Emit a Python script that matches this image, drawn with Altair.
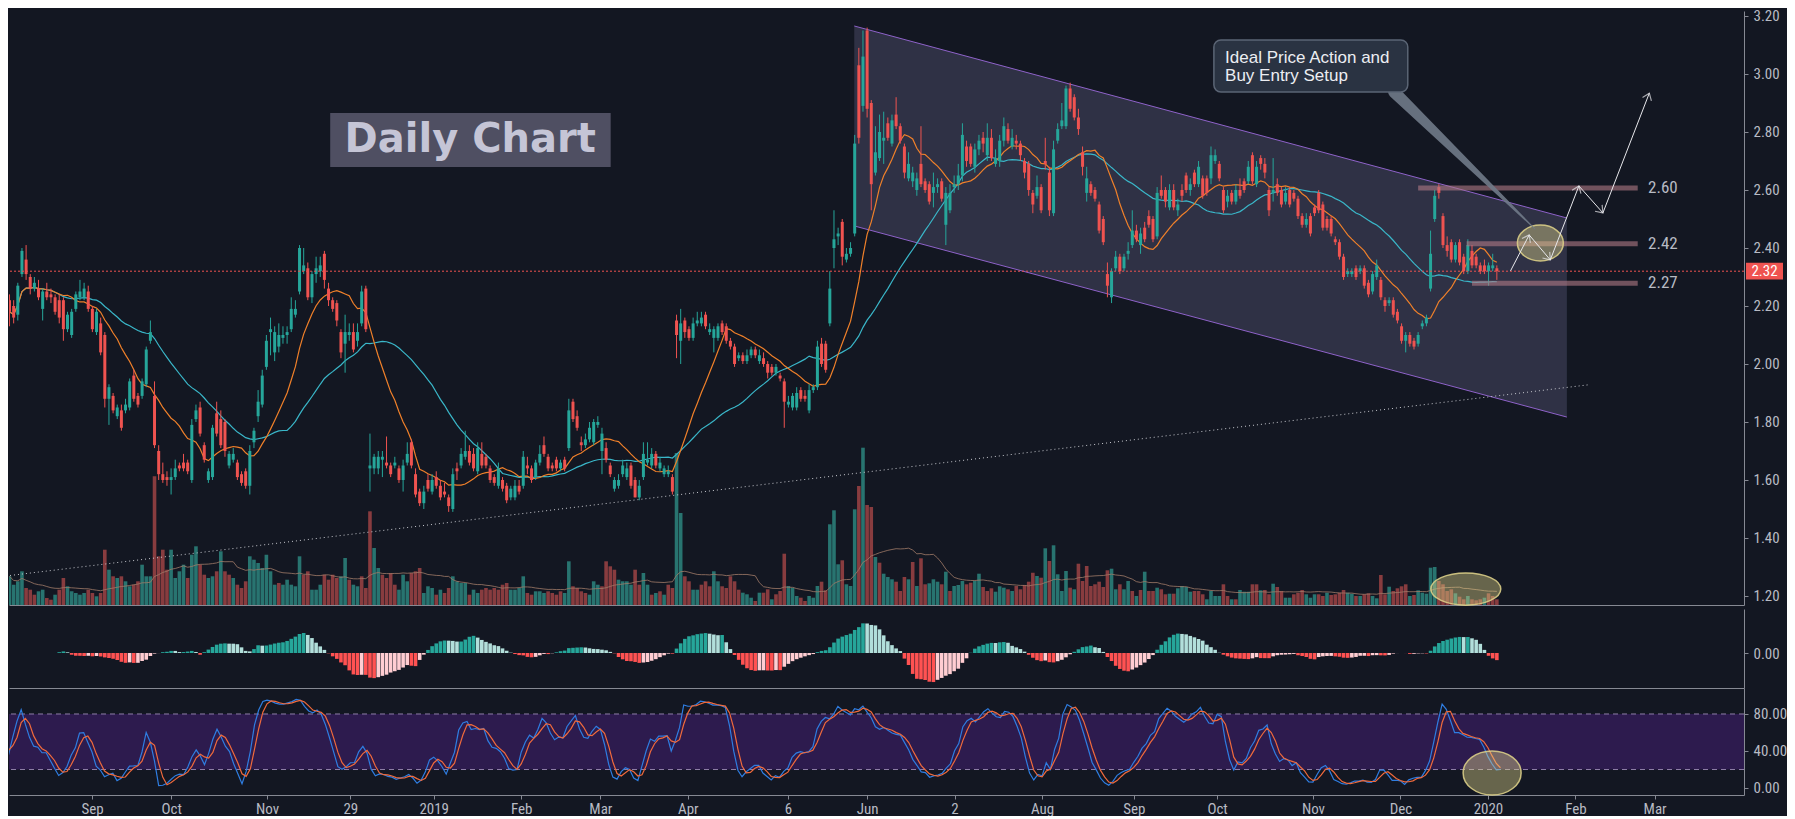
import math
import altair as alt
import pandas as pd

# ---------------- data (prices in cents) ----------------
# (open, close, high, low) per daily bar, first bar = index -21 (Sep 4 2018 = index 0)
seg1_ohlc = [(222,218,224,213),(220,216,222,214),(217,227,228,215),(231,239,240,230),(236,231,241,229),(230,226,231,224),(226,228,230,225),(226,223,229,222),(219,225,226,215),(225,223,228,222),
(224,223,226,221),(223,218,224,217),(222,216,224,214),(222,212,223,208),(212,217,218,211),(210,218,219,209),(219,224,225,218),(223,225,229,222),(223,226,228,222),(225,219,227,218),
(219,212,220,211),(211,218,219,210),(214,204,216,203),(210,188,211,185),(188,192,193,179),(189,184,190,183),(182,185,186,181),(184,178,186,177),(184,186,188,183),(185,194,195,184),
(196,188,198,187),(189,186,190,185),(189,194,195,188),(193,205,206,192),(208,211,215,207),(189,172,194,171),(170,162,172,160),(162,160,166,159),(161,160,163,158),(160,161,164,155),
(161,164,167,160),(165,164,166,163),(166,164,169,163),(166,163,167,162),(160,179,181,159),(181,184,186,180),(185,176,187,175),(172,167,173,166),(160,163,164,159),(161,178,179,160),
(183,176,187,175),(181,172,184,171),(180,170,181,168),(165,169,170,164),(167,169,171,166),(166,161,167,160),(162,159,163,158),(163,158,164,157),(158,170,172,155),(173,177,178,171),
(182,187,191,180),(186,196,198,185),(199,208,210,198),(211,212,216,203),(204,211,213,201),(206,210,214,204),(209,210,213,207),(210,211,213,207),(212,219,223,211),(217,219,222,216),
(225,240,241,224),(232,234,240,231),(233,223,235,222),(223,231,232,221),(231,233,237,228),(232,234,237,230),(238,229,239,226),(226,222,228,220),(222,219,223,218),(221,215,222,213),
(211,204,212,202),(207,211,217,197),(210,211,214,208),(211,205,214,204),(208,211,214,206),(214,225,227,213),(226,212,227,211),(164,165,176,156),(164,168,169,162)]
seg2_ohlc = [(164,168,170,162),(167,168,170,161),(166,165,175,164),(165,162,166,161),(165,166,168,164),(164,160,165,159),(160,165,167,156),(166,169,173,165),(173,165,174,164),(162,155,164,154),
(156,152,157,151),(152,156,158,150),(160,157,162,156),(156,160,162,155),(161,158,163,157),(158,154,160,153),(156,155,159,154),(154,151,155,149),(150,162,164,149),(164,163,166,160),
(165,169,171,164),(168,170,177,167),(170,166,172,165),(169,164,171,163),(163,171,173,162),(169,165,173,164),(168,165,169,164),(164,160,165,159),(161,159,162,158),(158,164,166,157),
(160,157,161,156),(158,153,159,152),(154,157,158,153),(154,158,160,153),(158,156,160,155),(158,168,170,157),(165,164,168,162),(164,160,165,159),(161,166,167,160),(166,169,172,165),
(172,169,175,168),(168,164,169,163),(165,164,166,163),(167,164,168,163),(164,166,167,163),(167,164,168,163),(171,184,188,170),(187,181,188,180),(182,178,184,177),(173,172,175,170),
(172,174,176,171),(174,178,180,173),(173,180,181,172),(179,180,182,178),(170,176,178,162),(171,167,173,166),(165,162,166,161),(157,160,161,156),(158,160,162,157),(162,165,167,161),
(161,164,166,160),(165,158,166,157),(160,154,161,154),(154,158,160,153),(161,169,173,160),(166,167,173,165),(165,169,171,164),(169,165,170,164),(164,166,168,163),(162,164,165,161),
(162,163,165,161),(161,156,162,155),(215,210,217,202),(208,214,219,200),(215,211,216,209),(212,209,213,208),(209,214,216,208),(214,215,218,213),(214,216,218,213),(217,213,218,212),
(211,212,214,210),(209,212,213,204),(209,213,214,208),(214,211,215,210),(213,208,214,207),(208,206,209,205),(206,200,207,199),(202,203,204,201)]
seg3_ohlc = [(203,201,204,200),(201,203,205,200),(203,205,206,202),(205,203,206,202),(201,203,205,200),(202,200,204,199),(200,197,201,195),(199,197,200,196),(197,199,200,196),(196,195,197,194),
(194,187,195,178),(186,187,189,185),(185,189,190,184),(185,190,192,184),(191,188,192,187),(189,188,191,187),(184,191,193,183),(191,192,193,190),(192,206,208,191),(207,200,209,199),
(207,198,208,197),(214,226,232,213),(240,243,253,233),(244,245,247,241),(249,237,250,234),(236,238,240,235),(238,240,242,237),(245,276,279,244),(303,278,309,276),(289,306,315,287),
(315,288,316,285),(290,262,291,253),(266,273,282,265),(271,280,286,270),(277,278,287,269),(283,278,285,277),(276,284,286,275),(286,282,292,281),(282,277,283,276),(275,266,276,264),
(264,269,273,263),(263,266,268,261),(260,264,266,258),(269,262,282,261),(263,260,264,259),(262,256,263,255),(259,261,266,254),(261,262,264,259),(263,257,264,256),(248,259,261,241),
(253,259,262,252),(261,262,265,259),(262,265,269,260),(265,279,283,263),(275,270,277,268),(275,269,276,268),(268,274,276,266),(274,277,279,272),(278,276,280,273),(272,278,283,270),
(278,271,281,270),(269,271,274,268),(270,277,279,268),(277,282,285,275),(281,277,283,276),(275,278,281,274),(277,276,279,274),(276,272,277,270),(270,266,271,264),(269,260,270,258),
(259,255,260,252),(258,261,265,257),(261,253,262,252),(270,269,278,267),(266,253,268,251),(252,274,277,251),(277,281,283,276),(282,284,290,281),(282,295,296,281),(295,288,297,287),
(292,285,293,284),(285,281,288,279),(273,268,275,265),(259,264,268,256),(262,259,263,258),(260,257,261,256),(255,246,256,245),(250,242,251,241),(231,227,235,223),(223,232,233,221),
(233,237,239,232),(237,232,238,231)]
seg4_ohlc = [(233,237,238,232),(238,239,242,236),(241,246,253,240),(246,243,248,242),(241,245,247,238),(247,243,249,242),(251,248,253,247),(250,243,251,242),(244,259,261,243),(260,258,265,257),
(260,256,261,254),(254,260,262,253),(260,254,262,253),(253,255,257,251),(260,258,262,256),(265,260,266,259),(260,262,264,258),(266,262,267,261),(262,268,270,261),(264,258,265,257),
(264,259,265,258),(264,272,275,262),(270,272,274,269),(269,264,270,263),(260,253,261,252),(256,258,260,254),(259,256,260,255),(256,260,262,255),(260,258,264,257),(263,260,264,259),
(263,268,270,262),(272,263,273,262),(262,268,270,261),(271,269,272,267),(269,266,271,264),(260,253,261,251),(259,260,271,256),(262,259,264,258),(260,255,261,254),(256,259,261,255),
(260,255,261,254),(259,257,260,256),(257,251,258,250),(251,248,252,247),(248,250,252,247),(251,245,252,244),(254,252,255,251),(259,253,260,252),(255,247,256,246),(250,247,251,246),
(250,245,251,244),(243,242,244,241),(242,237,243,236),(237,230,238,229),(231,232,233,230),(231,232,233,230),(233,230,234,229),(232,233,234,231),(233,227,234,226),(228,224,229,223),
(225,231,232,224),(230,234,236,229),(229,223,230,222),(222,220,223,218),(221,222,223,220),(222,217,223,216),(218,215,219,214),(213,208,214,207),(208,210,211,204),(210,207,211,206),
(208,206,209,205),(207,210,211,206),(213,214,215,212),(214,216,217,213),(226,238,246,225),(250,258,260,249),(261,259,262,257),(251,241,252,240),(241,239,244,237),(242,236,243,235),
(236,241,242,235),(242,235,243,234),(237,232,238,231),(232,241,243,231),(239,234,241,233),(237,234,238,233),(234,232,235,231),(234,232,236,231),(232,234,235,227),(233,234,238,232),
(233,232,234,229)]

# volume per bar (relative units) and its colour as seen (t = teal/up, r = red/down)
seg1_vol = [287,203,237,337,170,153,103,137,153,70,53,103,153,270,187,137,120,103,120,153,
120,87,120,553,353,287,270,287,237,187,203,237,403,287,287,1287,487,553,353,553,
270,337,403,270,503,587,403,303,270,287,337,537,337,303,270,203,170,237,487,453,
420,370,503,337,203,220,203,253,203,187,487,303,337,153,153,203,303,253,303,270,
287,470,253,203,187,287,170,937,570]
seg2_vol = [370,303,270,320,203,153,303,237,320,337,370,120,187,170,103,153,120,170,287,237,
220,220,103,153,120,153,170,153,170,153,203,220,153,153,170,287,120,103,137,137,
120,137,120,103,137,120,437,187,170,137,120,103,237,203,187,437,387,353,253,237,
237,203,353,203,320,203,103,120,137,103,203,170,1520,920,287,237,153,153,203,237,
187,337,237,187,170,287,237,153]
seg3_vol = [123,107,73,40,123,123,157,57,107,140,513,190,173,90,73,40,90,73,190,233,
147,807,947,407,447,207,190,957,1190,1573,1000,980,480,423,313,280,257,233,140,280,
257,430,190,467,207,217,257,233,207,333,140,190,200,240,207,223,240,313,180,140,
167,133,187,173,157,140,190,157,200,233,323,290,273,567,440,597,307,140,340,173,
157,413,240,390,190,207,233,180,347,363,157,207,157]
seg4_vol = [240,140,90,150,333,140,140,173,157,107,113,113,167,190,180,133,140,140,107,57,
140,90,90,207,90,57,57,150,133,133,207,207,147,150,107,213,180,140,73,73,
107,123,150,107,73,107,107,90,123,100,107,123,150,123,113,90,90,107,117,90,
67,300,107,183,140,167,187,207,90,100,147,123,113,373,380,240,207,140,157,117,
83,57,90,57,47,57,73,117,90,57]
seg1_vdir = "ttttrrrttr" "rtrrtttttr" "rtrrtrtrtt" "rrtttrrrrt" "tttrttrrtt" "rtrrtrrrtt" "tttttrtttt" "trrtttrrrr" "ttrttrrrt"
seg2_vdir = "trrrrtttrr" "rtttrtrrtt" "ttrttrrrrr" "rrttttrrtt" "trrrrttrrr" "rtttrrrrtt" "ttrrttrtrt" "rrttrrttrr" "rttrrrrr"
seg3_vdir = "tttrtrrtrr" "rtttrrtttr" "rtttrtttrt" "rrtrtttrrr" "trtrrtttrt" "rtttrrttrr" "rtttrtrrrr" "rtrtrttttr" "trrrrrrrrt" "trt"
seg4_vdir = "trtrtrrtrr" "trttttrrrt" "tttrrtrttt" "rrtrrtrrtt" "rrrtttrrtr" "rrrttrtrrt" "trrtrrrrtr" "tttttrrrrt" "rrtrrrtrrr"

FIRST_INDEX = -21

# x-axis ticks (bar index) and their labels
tick_index = [0, 19, 42, 62, 82, 103, 122, 143, 167, 186, 207, 228, 250, 270, 293, 314, 335, 356, 375]
tick_labels = ["Sep", "Oct", "Nov", "29", "2019", "Feb", "Mar", "Apr", "6", "Jun", "2", "Aug",
               "Sep", "Oct", "Nov", "Dec", "2020", "Feb", "Mar"]
price_ticks = [1.2, 1.4, 1.6, 1.8, 2.0, 2.2, 2.4, 2.6, 2.8, 3.0, 3.2]
macd_ticks = [0]
stoch_ticks = [0, 40, 80]

# drawings (bar index, price)
channel_x = [182.9, 354.9]
channel_top = [3.1655, 2.5034]
channel_bottom = [2.476, 1.817]
trend_x = [-21.84, 360.0]
trend_p = [1.269, 1.928]
zone_price = [2.607, 2.415, 2.278]
zone_start = [319.0, 330.7, 332.0]
zone_end = 372.0
zone_label = ["2.60", "2.42", "2.27"]
zone_label_x = 374.5
arrow_x = [341.3, 345.8, 350.9, 357.8, 363.6, 374.8]
arrow_p = [2.321, 2.445, 2.359, 2.614, 2.521, 2.934]
title_box = dict(x=56.4, x2=124.1, y=2.6793, y2=2.8655, tx=90.2, ty=2.772, text="Daily Chart")
note_box = dict(x=269.7, x2=316.5, y=2.9379, y2=3.1172, tx=272.4)
note_lines = ["Ideal Price Action and", "Buy Entry Setup"]
note_line_p = [3.0379, 2.9759]
pointer_x = [313.2, 347.2]
pointer_p = [2.9379, 2.4655]
ellipse_price = (348.5, 2.417)
ellipse_volume = (330.5, 1.224)
ellipse_stoch = (336.0, 16.3)

# ---------------- build table ----------------
ohlc = seg1_ohlc + seg2_ohlc + seg3_ohlc + seg4_ohlc
vols = seg1_vol + seg2_vol + seg3_vol + seg4_vol
vdir = seg1_vdir + seg2_vdir + seg3_vdir + seg4_vdir
n = min(len(ohlc), len(vols), len(vdir))
df = pd.DataFrame({
    "i": [FIRST_INDEX + k for k in range(n)],
    "o": [ohlc[k][0] / 100 for k in range(n)],
    "c": [ohlc[k][1] / 100 for k in range(n)],
    "h": [ohlc[k][2] / 100 for k in range(n)],
    "l": [ohlc[k][3] / 100 for k in range(n)],
    "v": vols[:n],
    "vd": ["up" if ch == "t" else "down" for ch in vdir[:n]],
})
df["dir"] = ["up" if c >= o else "down" for o, c in zip(df["o"], df["c"])]
last_price = float(df["c"].iloc[-1])

# ---------------- layout / style ----------------
BG = "#131722"
UP, DOWN = "#26a69a", "#ef5350"
VOL_UP, VOL_DOWN = "#287470", "#883c3f"
TXT = "#b8bbc4"
LINE = "#868993"
AXIS_FONT = "Liberation Sans Narrow, Roboto Condensed, DejaVu Sans Condensed, Liberation Sans, sans-serif"
FS = 15

PX_PER_BAR = 4.167
PX_PER_PRICE = 290.0
W = 1735
H_MAIN, H_MACD, H_STOCH = 594, 79, 107
X_LO = -19.92
X_HI = X_LO + W / PX_PER_BAR
P_HI = 3.2172
P_LO = P_HI - H_MAIN / PX_PER_PRICE

xs = alt.Scale(domain=[X_LO, X_HI], nice=False, zero=False)
ys = alt.Scale(domain=[P_LO, P_HI], nice=False, zero=False)
vs = alt.Scale(domain=[0, H_MAIN * 10], nice=False, zero=True)
ms = alt.Scale(domain=[-0.19, 0.239], nice=False, zero=False)
ss = alt.Scale(domain=[-7.57, 108.1], nice=False, zero=False)
dir_color = alt.Color("dir:N", scale=alt.Scale(domain=["up", "down"], range=[UP, DOWN]), legend=None)
srt = [alt.SortField("i")]

labels_js = "[" + ",".join("'" + s + "'" for s in tick_labels) + "]"
values_js = "[" + ",".join(str(v) for v in tick_index) + "]"

# one axis object per pane and channel, repeated on every layer so the merged axis survives
X_HIDDEN = alt.Axis(labels=False, ticks=False, domain=True, domainColor=LINE, grid=False, title=None)
X_BOTTOM = alt.Axis(values=tick_index, labelExpr=labels_js + "[indexof(" + values_js + ", datum.value)]",
                    grid=False, title=None, domain=True, domainColor=LINE, tickColor=LINE, tickSize=4,
                    labelPadding=2, labelFontSize=FS, labelOverlap=False, labelFlush=False)
Y_PRICE = alt.Axis(orient="right", values=price_ticks, format=".2f", grid=False, title=None,
                   tickSize=4, labelPadding=5, domain=True)
Y_MACD = alt.Axis(orient="right", values=macd_ticks, format=".2f", grid=False, title=None,
                  tickSize=4, labelPadding=5, domain=True)
Y_STOCH = alt.Axis(orient="right", values=stoch_ticks, format=".2f", grid=False, title=None,
                   tickSize=4, labelPadding=5, domain=True)


def X(field):
    return alt.X(field, type="quantitative", scale=xs, axis=X_HIDDEN)


def XB(field):
    return alt.X(field, type="quantitative", scale=xs, axis=X_BOTTOM)


def Yp(field):
    return alt.Y(field, type="quantitative", scale=ys, axis=Y_PRICE)


def Ys(field):
    return alt.Y(field, type="quantitative", scale=ss, axis=Y_STOCH)


base = alt.Chart(df)

# ---- main pane ----
chan_df = pd.DataFrame({"x": channel_x, "top": channel_top, "bot": channel_bottom})
chan_fill = alt.Chart(chan_df).mark_area(color="#a29bd0", opacity=0.2).encode(
    x=X("x"), y=Yp("top"), y2="bot")
chan_top = alt.Chart(chan_df).mark_line(color="#8e62c9", strokeWidth=1).encode(x=X("x"), y=Yp("top"))
chan_bot = alt.Chart(chan_df).mark_line(color="#8e62c9", strokeWidth=1).encode(x=X("x"), y=Yp("bot"))

trend = alt.Chart(pd.DataFrame({"x": trend_x, "p": trend_p})).mark_line(
    color="#c8cad0", strokeWidth=1, strokeDash=[1, 3], clip=True).encode(x=X("x"), y=Yp("p"))

ma_fast = base.transform_window(maf="mean(c)", frame=[-12, 0], sort=srt).mark_line(
    color="#f0802a", strokeWidth=1.2, clip=True).encode(x=X("i"), y=Yp("maf"))
ma_slow = base.transform_window(mas="mean(c)", frame=[-32, 0], sort=srt).mark_line(
    color="#3ab7c9", strokeWidth=1.2, clip=True).encode(x=X("i"), y=Yp("mas"))

wicks = base.mark_rule(strokeWidth=1, clip=True).encode(
    x=X("i"), y=Yp("l"), y2="h", color=dir_color)
bodies = base.mark_bar(size=3, clip=True).encode(x=X("i"), y=Yp("o"), y2="c", color=dir_color)

last_line = alt.Chart(pd.DataFrame({"p": [last_price]})).mark_rule(
    color=DOWN, strokeDash=[2, 2], strokeWidth=1).encode(y=Yp("p"))

zone_df = pd.DataFrame({"p": zone_price, "x": zone_start, "x2": [zone_end] * 3,
                        "lab": zone_label, "lx": [zone_label_x] * 3})
zones = alt.Chart(zone_df).mark_rule(color="#b07a86", opacity=0.6, strokeWidth=5).encode(
    x=X("x"), x2="x2", y=Yp("p"))
zone_text = alt.Chart(zone_df).mark_text(color=TXT, fontSize=17, font=AXIS_FONT, align="left",
                                         baseline="middle").encode(x=X("lx"), y=Yp("p"), text="lab:N")

ELL_A = "M -1 0 A 1 0.78 0 1 1 1 0 A 1 0.78 0 1 1 -1 0 Z"
ELL_B = "M -1 0 A 1 0.46 0 1 1 1 0 A 1 0.46 0 1 1 -1 0 Z"
ELL_C = "M -1 0 A 1 0.76 0 1 1 1 0 A 1 0.76 0 1 1 -1 0 Z"
ell_style = dict(filled=True, fill="#e6dc8c", fillOpacity=0.4, stroke="#d8cc86",
                 strokeWidth=1.5, strokeOpacity=0.9)
ell_a = alt.Chart(pd.DataFrame({"x": [ellipse_price[0]], "p": [ellipse_price[1]]})).mark_point(
    shape=ELL_A, size=46 ** 2, **ell_style).encode(x=X("x"), y=Yp("p"))
ell_b = alt.Chart(pd.DataFrame({"x": [ellipse_volume[0]], "p": [ellipse_volume[1]]})).mark_point(
    shape=ELL_B, size=70 ** 2, **ell_style).encode(x=X("x"), y=Yp("p"))

arrow_df = pd.DataFrame({"x": arrow_x, "p": arrow_p, "k": list(range(len(arrow_x)))})
heads = []
for k in range(1, len(arrow_x)):
    dx = (arrow_x[k] - arrow_x[k - 1]) * PX_PER_BAR
    dy = -(arrow_p[k] - arrow_p[k - 1]) * PX_PER_PRICE
    heads.append({"x": arrow_x[k], "p": arrow_p[k], "ang": math.degrees(math.atan2(dx, -dy)) % 360})
arrow_line = alt.Chart(arrow_df).mark_line(color="#e8e8ec", strokeWidth=1).encode(
    x=X("x"), y=Yp("p"), order="k:Q")
arrow_heads = alt.Chart(pd.DataFrame(heads)).mark_point(
    shape="M -0.55 0.75 L 0 0 L 0.55 0.75", size=300, filled=False, stroke="#e8e8ec",
    strokeWidth=1.2).encode(x=X("x"), y=Yp("p"), angle=alt.Angle("ang:Q", scale=None))

tb = pd.DataFrame([title_box])
title_rect = alt.Chart(tb).mark_rect(color="#4f4f62").encode(x=X("x"), x2="x2", y=Yp("y"), y2="y2")
title_text = alt.Chart(tb).mark_text(color="#c5c5d6", fontSize=40, fontWeight="bold", font="DejaVu Sans",
                                     align="center", baseline="middle").encode(
    x=X("tx"), y=Yp("ty"), text="text:N")

pointer = alt.Chart(pd.DataFrame({"x": pointer_x, "p": pointer_p, "w": [12, 1]})).mark_trail(
    color="#707a88", opacity=0.9).encode(x=X("x"), y=Yp("p"), size=alt.Size("w:Q", scale=None, legend=None))
nb = pd.DataFrame([note_box])
note_rect = alt.Chart(nb).mark_rect(fill="#2a3342", stroke="#5b6575", strokeWidth=1.5, cornerRadius=7).encode(
    x=X("x"), x2="x2", y=Yp("y"), y2="y2")
note_text = alt.Chart(pd.DataFrame({"t": note_lines, "p": note_line_p, "x": [note_box["tx"]] * 2})).mark_text(
    color="#eceef2", fontSize=17, font="Liberation Sans, Arial, sans-serif", align="left",
    baseline="alphabetic").encode(x=X("x"), y=Yp("p"), text="t:N")

price_box = alt.Chart(pd.DataFrame({"p": [last_price + 0.029], "p2": [last_price - 0.029]})).mark_rect(
    color=DOWN).encode(x=alt.value(W + 2), x2=alt.value(W + 39), y=Yp("p"), y2="p2")
price_text = alt.Chart(pd.DataFrame({"p": [last_price], "t": [f"{last_price:.2f}"]})).mark_text(
    color="white", fontSize=FS, font=AXIS_FONT, align="center", baseline="middle").encode(
    x=alt.value(W + 20.5), y=Yp("p"), text="t:N")

volume = base.mark_bar(size=3.6, clip=True).encode(
    x=X("i"), y=alt.Y("v:Q", scale=vs, axis=None),
    color=alt.Color("vd:N", scale=alt.Scale(domain=["up", "down"], range=[VOL_UP, VOL_DOWN]), legend=None))
vol_ma = base.transform_window(vma="mean(v)", frame=[-19, 0], sort=srt).mark_line(
    color="#a07a68", strokeWidth=1, opacity=0.8, clip=True).encode(x=X("i"), y=alt.Y("vma:Q", scale=vs, axis=None))

price_layer = alt.layer(
    chan_fill, chan_top, chan_bot, trend, ma_slow, ma_fast, wicks, bodies, last_line,
    zones, zone_text, ell_a, ell_b, arrow_line, arrow_heads, title_rect, title_text,
    pointer, note_rect, note_text, price_box, price_text)
main = alt.layer(alt.layer(volume, vol_ma), price_layer).resolve_scale(
    y="independent", color="independent").properties(width=W, height=H_MAIN)

# ---- MACD histogram pane (computed from the closes) ----
macd = base.transform_window(fast="mean(c)", frame=[-11, 0], sort=srt).transform_window(
    slow="mean(c)", frame=[-25, 0], sort=srt).transform_calculate(
    macd="datum.fast - datum.slow").transform_window(
    sig="mean(macd)", frame=[-8, 0], sort=srt).transform_calculate(
    hist="datum.macd - datum.sig").transform_window(prev="lag(hist)", sort=srt).transform_calculate(
    kind="datum.hist >= 0 ? (datum.hist >= datum.prev ? 'pu' : 'pd') : (datum.hist <= datum.prev ? 'nd' : 'nu')"
).mark_bar(size=3.6, clip=True).encode(
    x=X("i"),
    y=alt.Y("hist:Q", scale=ms, axis=Y_MACD),
    color=alt.Color("kind:N", scale=alt.Scale(domain=["pu", "pd", "nd", "nu"],
                                              range=["#26a69a", "#b2dfdb", "#ff5252", "#ffcdd2"]), legend=None))
macd_pane = macd.properties(width=W, height=H_MACD)

# ---- Stochastic pane (computed from highs/lows/closes) ----
stoch_base = base.transform_window(ll="min(l)", hh="max(h)", frame=[-13, 0], sort=srt).transform_calculate(
    raw="100 * (datum.c - datum.ll) / max(datum.hh - datum.ll, 0.0001)").transform_window(
    K="mean(raw)", frame=[-2, 0], sort=srt).transform_window(D="mean(K)", frame=[-2, 0], sort=srt)
band = alt.Chart(pd.DataFrame({"a": [20], "b": [80]})).mark_rect(color="#2d1b4e").encode(
    x=alt.value(0), x2=alt.value(W), y=Ys("a"), y2="b")
band_lines = alt.Chart(pd.DataFrame({"lv": [20, 80]})).mark_rule(
    color="#8f7fa8", strokeDash=[5, 4], strokeWidth=1).encode(y=Ys("lv"))
k_line = stoch_base.mark_line(color="#2f7de1", strokeWidth=1.2, clip=True).encode(x=XB("i"), y=Ys("K"))
d_line = stoch_base.mark_line(color="#f06a3c", strokeWidth=1.2, clip=True).encode(x=XB("i"), y=Ys("D"))
ell_c = alt.Chart(pd.DataFrame({"x": [ellipse_stoch[0]], "s": [ellipse_stoch[1]]})).mark_point(
    shape=ELL_C, size=58 ** 2, **ell_style).encode(x=XB("x"), y=Ys("s"))
stoch_pane = alt.layer(band, band_lines, k_line, d_line, ell_c).properties(width=W, height=H_STOCH)

chart = alt.vconcat(main, macd_pane, stoch_pane, spacing=0).resolve_scale(color="independent").properties(
    background=BG, padding=0
).configure_view(strokeWidth=0).configure_axis(
    labelColor=TXT, labelFont=AXIS_FONT, labelFontSize=FS, domainColor=LINE, tickColor=LINE, grid=False
)

chart.save("out.html", embed_options={"renderer": "svg", "actions": False})
